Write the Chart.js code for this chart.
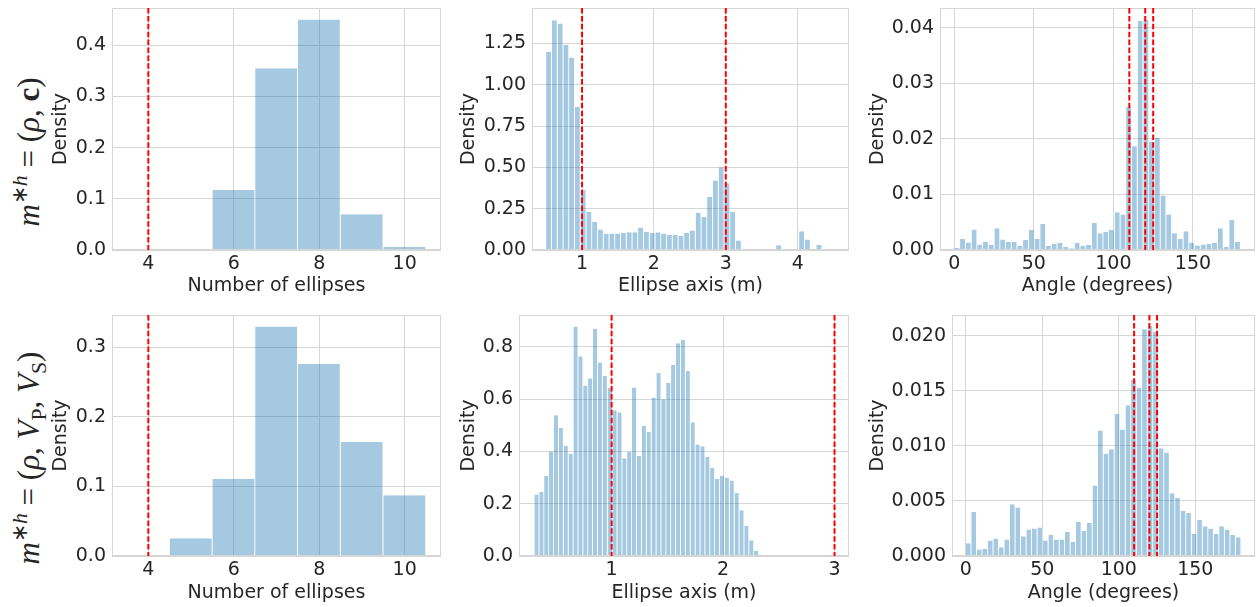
<!DOCTYPE html>
<html>
<head>
<meta charset="utf-8">
<script src="https://cdn.jsdelivr.net/npm/chart.js@4.4.1/dist/chart.umd.min.js"></script>
<style>
  body { margin: 0; background: #fff; width: 1256px; height: 607px; overflow: hidden; position: relative; }
  .panel { position: absolute; }
  .rowlabel {
    position: absolute; transform: translate(-50%, -50%) rotate(-90deg);
    white-space: nowrap; font-family: 'Liberation Serif', serif; font-size: 31px; color: #262626;
  }
  .rowlabel sup { font-size: 0.7em; vertical-align: 0.55em; line-height: 0; }
  .rowlabel sub { font-size: 0.7em; vertical-align: -0.3em; line-height: 0; }
</style>
</head>
<body>
<div class="rowlabel" style="left:29px; top:152px"><i>m</i><sup>∗<i>h</i></sup> = (<i>ρ</i>, <b>c</b>)</div>
<div class="rowlabel" style="left:29px; top:458px"><i>m</i><sup>∗<i>h</i></sup> = (<i>ρ</i>, <i>V</i><sub>P</sub>, <i>V</i><sub>S</sub>)</div>

<div id="p1" class="panel"><canvas></canvas></div>
<div id="p2" class="panel"><canvas></canvas></div>
<div id="p3" class="panel"><canvas></canvas></div>
<div id="p4" class="panel"><canvas></canvas></div>
<div id="p5" class="panel"><canvas></canvas></div>
<div id="p6" class="panel"><canvas></canvas></div>

<script>
/* ---------------- data ---------------- */

// number of ellipses (bins of width 1, centred on integers)
const countBinsTop = [6, 7, 8, 9, 10];
const countDensityTop = [0.117, 0.355, 0.450, 0.070, 0.006];
const countBinsBottom = [4, 5, 6, 7, 8, 9, 10];
const countDensityBottom = [0.0014, 0.0255, 0.111, 0.330, 0.276, 0.164, 0.0875];

// ellipse axis (m)
const axisBinStartTop = 0.5;
const axisBinWidthTop = 0.08;
const axisDensityTop = [
    1.20, 1.39, 1.37, 1.24, 1.165, 0.867, 0.365, 0.231, 0.17, 0.124,
    0.10, 0.10, 0.10, 0.105, 0.108, 0.108, 0.136, 0.11, 0.104, 0.108,
    0.10, 0.092, 0.092, 0.085, 0.105, 0.118, 0.225, 0.20, 0.32, 0.42,
    0.50, 0.404, 0.23, 0.057, 0.008, 0, 0, 0, 0, 0,
    0.028, 0, 0, 0, 0.114, 0.063, 0, 0.03
];
const axisBinStartBottom = 0.307;
const axisBinWidthBottom = 0.0438;
const axisDensityBottom = [
    0.235, 0.245, 0.307, 0.40, 0.538, 0.49, 0.422, 0.39, 0.878, 0.764,
    0.652, 0.68, 0.869, 0.74, 0.69, 0.643, 0.558, 0.55, 0.374, 0.399,
    0.645, 0.383, 0.497, 0.474, 0.606, 0.70, 0.60, 0.662, 0.731, 0.814,
    0.827, 0.708, 0.512, 0.427, 0.42, 0.38, 0.337, 0.295, 0.307, 0.299,
    0.289, 0.241, 0.175, 0.115, 0.06, 0.019, 0.006, 0.001
];

// angle (degrees)
const angleBinStart = 0;
const angleBinWidth = 3.6;
const angleDensityTop = [
    0.0004, 0.002, 0.0013, 0.0037, 0.001, 0.0015, 0.001, 0.0039, 0.0019, 0.0015,
    0.0015, 0.0007, 0.0018, 0.0036, 0.002, 0.0047, 0.0007, 0.0011, 0.0013, 0.0006,
    0.0003, 0.0013, 0.0007, 0.0009, 0.0049, 0.003, 0.0033, 0.0036, 0.0068, 0.0064,
    0.0258, 0.0187, 0.0413, 0.0415, 0.0195, 0.0202, 0.0098, 0.0064, 0.003, 0.002,
    0.0034, 0.0013, 0.0008, 0.001, 0.0011, 0.0013, 0.0039, 0.0006, 0.0054, 0.0015
];
const angleDensityBottom = [
    0.00116, 0.0040, 0.0006, 0.00067, 0.0014, 0.0016, 0.0008, 0.0015, 0.0047, 0.0044,
    0.0018, 0.0024, 0.0025, 0.0026, 0.0014, 0.0019, 0.0015, 0.0015, 0.0022, 0.0013,
    0.0031, 0.0023, 0.003, 0.0064, 0.0114, 0.0093, 0.0097, 0.0129, 0.0115, 0.0137,
    0.016, 0.0153, 0.0206, 0.0209, 0.0204, 0.0098, 0.0094, 0.0057, 0.0053, 0.0041,
    0.0039, 0.002, 0.0033, 0.0027, 0.0025, 0.002, 0.0027, 0.0024, 0.0019, 0.0017
];

// true model values (red dashed lines)
const trueCount = [4];
const trueAxes = [1, 3];
const trueAngles = [110, 120, 125];

// tick values
const countTicks = [4, 6, 8, 10];
const axisTicksTop = [1, 2, 3, 4];
const axisTicksBottom = [1, 2, 3];
const angleTicks = [0, 50, 100, 150];
const densityTicksCountTop = [0, 0.1, 0.2, 0.3, 0.4];
const densityTicksAxisTop = [0, 0.25, 0.5, 0.75, 1.0, 1.25];
const densityTicksAngleTop = [0, 0.01, 0.02, 0.03, 0.04];
const densityTicksCountBottom = [0, 0.1, 0.2, 0.3];
const densityTicksAxisBottom = [0, 0.2, 0.4, 0.6, 0.8];
const densityTicksAngleBottom = [0, 0.005, 0.01, 0.015, 0.02];

/* ---------------- styling ---------------- */

const textColor = '#262626';
const gridColor = '#d6d6d6';
const barFill = 'rgba(31, 119, 180, 0.4)';
const barEdge = 'rgba(255, 255, 255, 0.5)';
const font = { family: 'DejaVu Sans', size: 19 };

function binCentres(start, width, n) {
    const out = [];
    for (let i = 0; i < n; i++) out.push(start + width * (i + 0.5));
    return out;
}

const framePlugin = {
    id: 'frame',
    afterDatasetsDraw(chart, args, opts) {
        const { ctx, chartArea: a, scales: { x } } = chart;
        ctx.save();
        ctx.strokeStyle = gridColor;
        ctx.lineWidth = 1;
        ctx.strokeRect(a.left + 0.5, a.top + 0.5, a.width - 1, a.height - 1);
        ctx.strokeStyle = '#ff0000';
        ctx.lineWidth = 2;
        ctx.setLineDash([5.5, 2.4]);
        (opts.refs || []).forEach(v => {
            const px = x.getPixelForValue(v);
            ctx.beginPath();
            ctx.moveTo(px, a.top);
            ctx.lineTo(px, a.bottom);
            ctx.stroke();
        });
        ctx.restore();
    }
};

function makePanel(id, box, p) {
    const el = document.getElementById(id);
    el.style.left = box.left + 'px';
    el.style.top = box.top + 'px';
    el.style.width = box.width + 'px';
    el.style.height = box.height + 'px';

    new Chart(el.querySelector('canvas'), {
        type: 'bar',
        data: {
            datasets: [{
                data: p.bins.map((x, i) => ({ x: x, y: p.values[i] })),
                backgroundColor: barFill,
                borderColor: barEdge,
                borderWidth: { left: 0, right: 0.8, top: 0, bottom: 0 },
                inflateAmount: 0,
                barPercentage: 1,
                categoryPercentage: 1
            }]
        },
        options: {
            responsive: true,
            maintainAspectRatio: false,
            animation: false,
            layout: { padding: 0 },
            plugins: {
                legend: { display: false },
                tooltip: { enabled: false },
                frame: { refs: p.refs }
            },
            scales: {
                x: {
                    type: 'linear',
                    offset: false,
                    min: p.xMin,
                    max: p.xMax,
                    afterBuildTicks: s => { s.ticks = p.xTicks.map(v => ({ value: v })); },
                    afterFit: s => { s.height = box.axisH; s.paddingLeft = 0; s.paddingRight = 0; },
                    grid: { color: gridColor, drawTicks: false, offset: false },
                    border: { display: false },
                    ticks: { color: textColor, font: font, padding: 3, maxRotation: 0, autoSkip: false },
                    title: { display: true, text: p.xLabel, color: textColor, font: font, padding: 0 }
                },
                y: {
                    min: 0,
                    max: p.yMax,
                    afterBuildTicks: s => { s.ticks = p.yTicks.map(v => ({ value: v })); },
                    afterFit: s => { s.width = box.axisW; s.paddingTop = 0; s.paddingBottom = 0; },
                    grid: { color: gridColor, drawTicks: false },
                    border: { display: false },
                    ticks: {
                        color: textColor, font: font, padding: 6,
                        callback: v => v.toFixed(p.yDecimals)
                    },
                    title: { display: true, text: 'Density', color: textColor, font: font, padding: 0 }
                }
            }
        },
        plugins: [framePlugin]
    });
}

makePanel('p1', { left: 50, top: 8, width: 391, height: 289, axisW: 62, axisH: 47 }, {
    bins: countBinsTop, values: countDensityTop, refs: trueCount,
    xMin: 3.15, xMax: 10.85, xTicks: countTicks, xLabel: 'Number of ellipses',
    yMax: 0.4725, yTicks: densityTicksCountTop, yDecimals: 1
});
makePanel('p2', { left: 458, top: 8, width: 391, height: 289, axisW: 74, axisH: 47 }, {
    bins: binCentres(axisBinStartTop, axisBinWidthTop, axisDensityTop.length),
    values: axisDensityTop, refs: trueAxes,
    xMin: 0.304, xMax: 4.714, xTicks: axisTicksTop, xLabel: 'Ellipse axis (m)',
    yMax: 1.464, yTicks: densityTicksAxisTop, yDecimals: 2
});
makePanel('p3', { left: 867, top: 8, width: 388, height: 289, axisW: 73, axisH: 47 }, {
    bins: binCentres(angleBinStart, angleBinWidth, angleDensityTop.length),
    values: angleDensityTop, refs: trueAngles,
    xMin: -9, xMax: 189, xTicks: angleTicks, xLabel: 'Angle (degrees)',
    yMax: 0.0436, yTicks: densityTicksAngleTop, yDecimals: 2
});
makePanel('p4', { left: 50, top: 315, width: 391, height: 289, axisW: 62, axisH: 48 }, {
    bins: countBinsBottom, values: countDensityBottom, refs: trueCount,
    xMin: 3.15, xMax: 10.85, xTicks: countTicks, xLabel: 'Number of ellipses',
    yMax: 0.3465, yTicks: densityTicksCountBottom, yDecimals: 1
});
makePanel('p5', { left: 458, top: 315, width: 391, height: 289, axisW: 61, axisH: 48 }, {
    bins: binCentres(axisBinStartBottom, axisBinWidthBottom, axisDensityBottom.length),
    values: axisDensityBottom, refs: trueAxes,
    xMin: 0.169, xMax: 3.13, xTicks: axisTicksBottom, xLabel: 'Ellipse axis (m)',
    yMax: 0.922, yTicks: densityTicksAxisBottom, yDecimals: 1
});
makePanel('p6', { left: 867, top: 315, width: 388, height: 289, axisW: 85, axisH: 48 }, {
    bins: binCentres(angleBinStart, angleBinWidth, angleDensityBottom.length),
    values: angleDensityBottom, refs: trueAngles,
    xMin: -9, xMax: 189, xTicks: angleTicks, xLabel: 'Angle (degrees)',
    yMax: 0.0219, yTicks: densityTicksAngleBottom, yDecimals: 3
});
</script>
</body>
</html>
